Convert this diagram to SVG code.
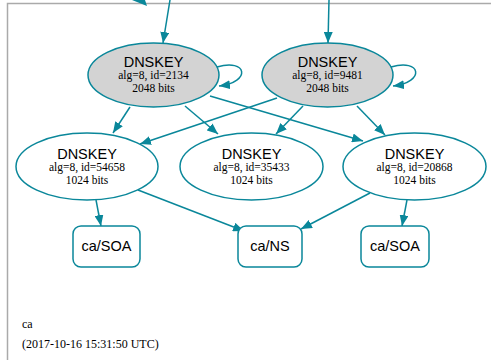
<svg xmlns="http://www.w3.org/2000/svg" width="491" height="360" viewBox="0 0 491 360">
<defs>
<marker id="ah" viewBox="0 0 10 10" refX="10" refY="5" markerWidth="11" markerHeight="9" markerUnits="userSpaceOnUse" orient="auto" preserveAspectRatio="none">
<path d="M0,0 L10,5 L0,10 Z" fill="#0a879a"/>
</marker>
<style>
.e{fill:none;stroke:#0a879a;stroke-width:1.5;marker-end:url(#ah)}
.k{fill:#d3d3d3;stroke:#0a879a;stroke-width:1.5}
.z{fill:#fff;stroke:#0a879a;stroke-width:1.5}
.t1{font-family:"Liberation Sans",Arial,sans-serif;font-size:14.5px;fill:#000;text-anchor:middle}
.t2{font-family:"Liberation Serif","Times New Roman",serif;font-size:11.5px;fill:#000;text-anchor:middle}
.f{font-family:"Liberation Serif","Times New Roman",serif;font-size:12px;fill:#000}
</style>
</defs>
<rect width="491" height="360" fill="#fff"/>
<path d="M7.5,360 V3.5 H491" fill="none" stroke="#aaa" stroke-width="1.5"/>
<g id="connectors">
<polygon points="132,0 147,6 145,0" fill="#0a879a"/>
<path class="e" d="M170,0 L163,43"/>
<path class="e" d="M329,0 L328,43"/>
<path class="e" d="M217,67 C247,58 252,82 219,86"/>
<path class="e" d="M391,67 C421,58 426,82 393,86"/>
<path class="e" d="M130,107 L113,133"/>
<path class="e" d="M185,106 L218,134"/>
<path class="e" d="M210,96 L363,141"/>
<path class="e" d="M277,98 L140,144"/>
<path class="e" d="M303,106 L276,134"/>
<path class="e" d="M357,106 L385,135"/>
<path class="e" d="M96,200 L101,226"/>
<path class="e" d="M138,190 L244,231"/>
<path class="e" d="M370,193 L301,229"/>
<path class="e" d="M407,200 L402,226"/>
</g>
<g id="k2134">
<ellipse class="k" cx="153.5" cy="75" rx="65.5" ry="32"/>
<text class="t1" x="153.5" y="66.5">DNSKEY</text>
<text class="t2" x="153.5" y="79">alg=8, id=2134</text>
<text class="t2" x="153.5" y="91.5">2048 bits</text>
</g>
<g id="k9481">
<ellipse class="k" cx="327.5" cy="75" rx="65.5" ry="32"/>
<text class="t1" x="327.5" y="66.5">DNSKEY</text>
<text class="t2" x="327.5" y="79">alg=8, id=9481</text>
<text class="t2" x="327.5" y="91.5">2048 bits</text>
</g>
<g id="k54658">
<ellipse class="z" cx="87" cy="166.5" rx="71" ry="33.5"/>
<text class="t1" x="87" y="158.5">DNSKEY</text>
<text class="t2" x="87" y="171">alg=8, id=54658</text>
<text class="t2" x="87" y="183.5">1024 bits</text>
</g>
<g id="k35433">
<ellipse class="z" cx="251.5" cy="166.5" rx="71.5" ry="33.5"/>
<text class="t1" x="251.5" y="158.5">DNSKEY</text>
<text class="t2" x="251.5" y="171">alg=8, id=35433</text>
<text class="t2" x="251.5" y="183.5">1024 bits</text>
</g>
<g id="k20868">
<ellipse class="z" cx="414.5" cy="166.5" rx="71.5" ry="33.5"/>
<text class="t1" x="414.5" y="158.5">DNSKEY</text>
<text class="t2" x="414.5" y="171">alg=8, id=20868</text>
<text class="t2" x="414.5" y="183.5">1024 bits</text>
</g>
<g id="soa1">
<rect class="z" x="73" y="226" width="67" height="41" rx="8"/>
<text class="t1" x="106.5" y="251">ca/SOA</text>
</g>
<g id="ns">
<rect class="z" x="238" y="226" width="64" height="41" rx="8"/>
<text class="t1" x="270" y="251">ca/NS</text>
</g>
<g id="soa2">
<rect class="z" x="361" y="226" width="68" height="41" rx="8"/>
<text class="t1" x="395" y="251">ca/SOA</text>
</g>
<g id="footer">
<text class="f" x="22" y="328">ca</text>
<text class="f" x="22" y="348">(2017-10-16 15:31:50 UTC)</text>
</g>
</svg>
